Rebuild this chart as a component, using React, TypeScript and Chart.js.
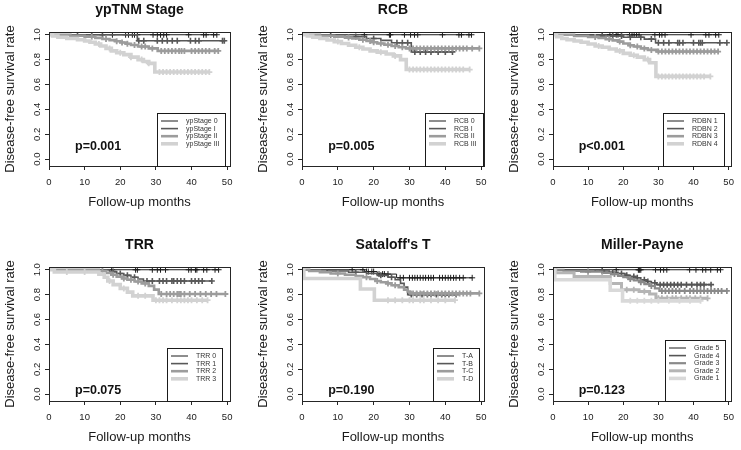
import React, { useEffect, useRef } from 'react';
import { Chart, registerables } from 'chart.js';

Chart.register(...registerables);

const FONT = '"Liberation Sans", Arial, Helvetica, sans-serif';

// ---------- axis ticks ----------
const xTicks = [0, 10, 20, 30, 40, 50];
const xTickLabels = ['0', '10', '20', '30', '40', '50'];
const yTicks = [0, 0.2, 0.4, 0.6, 0.8, 1.0];
const yTickLabels = ['0.0', '0.2', '0.4', '0.6', '0.8', '1.0'];

// ---------- panel texts ----------
const panelTitles = ['ypTNM Stage', 'RCB', 'RDBN', 'TRR', "Sataloff's T", 'Miller-Payne'];
const pValues = ['p=0.001', 'p=0.005', 'p<0.001', 'p=0.075', 'p=0.190', 'p=0.123'];

// ---------- Panel 1: ypTNM Stage ----------
const ypLabels = ['ypStage 0', 'ypStage I', 'ypStage II', 'ypStage III'];
const yp0Times = [0];
const yp0Surv = [1];
const yp0Cens = [17.8, 21.5, 22.3, 23.4, 24, 24.8, 29.2, 30.4, 31.3, 32.2, 33, 39.2, 43.4, 44.1, 46.2, 47.1];
const yp1Times = [0, 24.8];
const yp1Surv = [1, 0.952];
const yp1Cens = [8, 12, 15, 25.2, 26.6, 30.4, 31.8, 33.2, 34.6, 36, 39.7, 41.1, 42.1, 48.7, 49.2];
const yp2Times = [0, 6, 10, 13, 15, 17, 18.5, 20, 21.5, 23, 25, 28, 30.5];
const yp2Surv = [1, 0.992, 0.984, 0.975, 0.966, 0.957, 0.948, 0.938, 0.928, 0.918, 0.905, 0.89, 0.87];
const yp2Cens = [12, 16, 19, 20.5, 22, 24, 26, 27, 29, 31.5, 32.5, 33.5, 34.5, 35.5, 36.5, 37.2, 38, 40, 41, 42, 43, 44, 45, 46.5, 47.5];
const yp3Times = [0, 1, 2.5, 5, 8, 10, 11.5, 13, 14.5, 16, 17.5, 19, 21, 23, 25, 26.5, 28, 29.7];
const yp3Surv = [1, 0.99, 0.98, 0.97, 0.96, 0.95, 0.94, 0.925, 0.91, 0.89, 0.87, 0.855, 0.84, 0.82, 0.8, 0.785, 0.77, 0.7];
const yp3Cens = [14, 17, 20, 23, 26, 28, 31, 32, 33, 34, 35, 36, 37, 38, 39, 40, 41, 42, 43, 44, 45];

// ---------- Panel 2: RCB ----------
const rcbLabels = ['RCB 0', 'RCB I', 'RCB II', 'RCB III'];
const rcb0Times = [0];
const rcb0Surv = [1];
const rcb0Cens = [17.4, 24.4, 24.7, 28.6, 30.3, 31.4, 32.3, 39.2, 43.8, 44.5, 46.6, 47.3];
const rcb1Times = [0, 12, 18, 22, 25, 30.5];
const rcb1Surv = [1, 0.985, 0.97, 0.955, 0.935, 0.862];
const rcb1Cens = [8, 15, 20, 26.5, 28, 29.5, 31.5, 33, 34.5, 36, 38, 40, 42];
const rcb2Times = [0, 5, 9, 12, 14, 16, 18, 19.5, 21, 23, 25, 27, 29];
const rcb2Surv = [1, 0.992, 0.985, 0.977, 0.97, 0.96, 0.95, 0.94, 0.93, 0.92, 0.91, 0.9, 0.89];
const rcb2Cens = [13, 17, 19, 20, 22, 24, 26, 28, 30, 31, 32, 33, 34, 35, 36, 37, 38, 39, 40, 41, 42, 43, 44, 45, 46, 47.5, 49.5];
const rcb3Times = [0, 1.5, 3, 5, 7, 9, 11, 13, 15, 17, 19, 21, 23.5, 25.5, 27.5, 29.1];
const rcb3Surv = [1, 0.99, 0.98, 0.97, 0.958, 0.945, 0.93, 0.915, 0.9, 0.885, 0.87, 0.86, 0.845, 0.83, 0.8, 0.72];
const rcb3Cens = [10, 16, 22, 26, 30, 31, 32, 33, 34, 35, 36, 37, 38, 39, 40, 41, 42, 43, 44, 45, 46.8];

// ---------- Panel 3: RDBN ----------
const rdbnLabels = ['RDBN 1', 'RDBN 2', 'RDBN 3', 'RDBN 4'];
const rdbn1Times = [0];
const rdbn1Surv = [1];
const rdbn1Cens = [16.2, 18, 18.5, 21.8, 22.5, 23.1, 23.8, 24.5, 29, 30.3, 31, 31.9, 39.3, 43.5, 44.4, 46.3, 47.2];
const rdbn2Times = [0, 10, 20, 26, 29.2];
const rdbn2Surv = [1, 0.99, 0.98, 0.965, 0.935];
const rdbn2Cens = [14, 17, 19.5, 22, 25, 28, 30, 31.5, 33, 35.5, 36, 37, 40, 41.5, 42, 42.5, 47.5, 49.5];
const rdbn3Times = [0, 6, 10, 13, 15, 17, 18.5, 20, 21.5, 23, 25, 27, 29.5];
const rdbn3Surv = [1, 0.99, 0.982, 0.975, 0.965, 0.955, 0.945, 0.93, 0.915, 0.905, 0.89, 0.878, 0.865];
const rdbn3Cens = [12, 16, 19, 22, 24, 26, 28, 30, 31, 32, 33, 34, 35, 36, 37, 38, 39, 40, 41, 42, 43, 44, 45, 46, 47];
const rdbn4Times = [0, 1, 2.5, 4, 6, 8, 10, 12, 14, 16, 18, 20, 22, 24, 26, 27.5, 29.3];
const rdbn4Surv = [1, 0.985, 0.97, 0.96, 0.95, 0.94, 0.925, 0.91, 0.9, 0.885, 0.87, 0.85, 0.835, 0.82, 0.8, 0.775, 0.665];
const rdbn4Cens = [13, 19, 23, 27, 30, 31, 32, 33, 34, 35, 36, 37, 38, 39, 40, 41, 42, 43, 44.8];

// ---------- Panel 4: TRR ----------
const trrLabels = ['TRR 0', 'TRR 1', 'TRR 2', 'TRR 3'];
const trr0Times = [0];
const trr0Surv = [1];
const trr0Cens = [17.6, 24.3, 24.8, 29, 30.4, 31.3, 32.7, 39.2, 39.9, 41.1, 41.5, 43.4, 44.3, 46.6, 47.6];
const trr1Times = [0, 17, 19, 21, 23, 25, 26.5];
const trr1Surv = [1, 0.985, 0.97, 0.955, 0.94, 0.925, 0.91];
const trr1Cens = [18, 20, 22, 24, 27.5, 29, 31, 32, 33, 34.5, 35, 36, 37, 38, 40, 41, 42, 43, 45.7];
const trr2Times = [0, 14, 16, 17.5, 19, 20.5, 22, 24, 26, 28, 29.5, 30.8];
const trr2Surv = [1, 0.99, 0.975, 0.96, 0.945, 0.93, 0.92, 0.905, 0.89, 0.87, 0.84, 0.805];
const trr2Cens = [15, 18, 21, 23, 25, 27, 31.5, 33, 34, 35, 36, 36.5, 37, 38, 39.5, 41, 42.5, 44, 45.5, 47, 49.5];
const trr3Times = [0, 1.5, 14, 15.5, 16.5, 18, 20, 22, 23.5, 29.2];
const trr3Surv = [1, 0.982, 0.965, 0.94, 0.91, 0.88, 0.85, 0.82, 0.79, 0.755];
const trr3Cens = [5, 10, 17, 21, 25, 27, 30, 31, 32, 33, 34.5, 36, 37, 38, 39, 40, 41.5, 43, 44.5];

// ---------- Panel 5: Sataloff's T ----------
const satLabels = ['T-A', 'T-B', 'T-C', 'T-D'];
const satATimes = [0, 17.5, 21, 26.4];
const satASurv = [1, 0.985, 0.965, 0.935];
const satACens = [14, 17, 18, 18.5, 19.5, 20, 21.5, 22.5, 23, 24, 27.4, 28.3, 30, 30.8, 31.5, 32.2, 33, 33.8, 34.5, 35.3, 36, 36.7, 38.4, 39.2, 40, 40.8, 41.5, 42.3, 43, 44, 45, 47.5];
const satBTimes = [0, 7, 13, 18, 21, 24, 26, 27.5, 28.5, 29.5];
const satBSurv = [1, 0.99, 0.98, 0.97, 0.955, 0.94, 0.92, 0.89, 0.86, 0.8];
const satBCens = [15, 22, 25, 30.5, 32, 33.5, 35, 36, 37.5, 39, 40, 41, 43];
const satCTimes = [0, 2, 5, 8, 12, 15, 17, 19, 20.5, 22, 23.5, 25, 27, 28.5, 29.5, 30.2];
const satCSurv = [1, 0.99, 0.98, 0.97, 0.96, 0.95, 0.94, 0.925, 0.91, 0.9, 0.89, 0.875, 0.86, 0.84, 0.825, 0.81];
const satCCens = [10, 18, 21, 24, 26, 31, 32, 33, 34, 35, 36, 37, 38, 39, 40, 41, 42, 43, 44, 45, 46, 47, 49.5];
const satDTimes = [0, 0.5, 16.3, 20.2];
const satDSurv = [1, 0.93, 0.845, 0.755];
const satDCens = [24, 26, 28, 30, 31, 33, 34, 36, 38, 40, 42.7];

// ---------- Panel 6: Miller-Payne ----------
const mpLabels = ['Grade 5', 'Grade 4', 'Grade 3', 'Grade 2', 'Grade 1'];
const mp5Times = [0];
const mp5Surv = [1];
const mp5Cens = [18, 24.3, 24.5, 24.7, 25, 29.2, 30.6, 31.5, 32.4, 38.9, 40.7, 42.6, 43.5, 44.9, 46.8, 47.7];
const mp4Times = [0, 12, 16, 18.5, 20.5, 22, 23.5, 25, 26.5, 28, 29.5];
const mp4Surv = [1, 0.99, 0.98, 0.97, 0.955, 0.945, 0.935, 0.92, 0.905, 0.895, 0.88];
const mp4Cens = [14, 17, 19.5, 21, 23, 24, 26, 27, 29, 30.5, 31.5, 32.5, 33.5, 34.5, 35.5, 36.5, 38, 39.5, 41, 42, 43, 45];
const mp3Times = [0, 3, 8, 14, 16.5, 18.5, 20, 21.5, 23, 24.5, 26, 27.5, 29, 30.3];
const mp3Surv = [1, 0.99, 0.985, 0.975, 0.965, 0.95, 0.94, 0.925, 0.915, 0.9, 0.885, 0.87, 0.85, 0.83];
const mp3Cens = [10, 17.5, 22, 25, 28, 31, 32, 33, 34, 35, 36, 37.5, 39, 40, 41, 42, 43, 44, 45, 46, 47, 48, 49.5];
const mp2Times = [0, 0.8, 6, 16.3, 19.5, 24.5, 27.5, 29.3];
const mp2Surv = [1, 0.975, 0.945, 0.89, 0.84, 0.825, 0.805, 0.77];
const mp2Cens = [10, 14, 21, 23, 26, 30, 31, 32.5, 34, 35, 36.5, 38, 39, 40.5, 42, 44];
const mp1Times = [0, 0.5, 16.3, 19.8];
const mp1Surv = [1, 0.92, 0.835, 0.75];
const mp1Cens = [22, 24, 26, 28, 30, 33, 36, 39, 42];

// ---------- styles ----------
const GRAYS4 = ['#1c1c1c', '#585858', '#9c9c9c', '#d2d2d2'];
const WIDTHS4 = [1, 1.6, 2.6, 3.6];
const GRAYS5 = ['#1c1c1c', '#555555', '#8a8a8a', '#b5b5b5', '#d9d9d9'];
const WIDTHS5 = [1, 1.6, 2.2, 3, 3.6];

const X_MAX = 50.8;
const Y_MIN = -0.055;
const Y_MAX = 1.022;
const CANVAS_W = 247;
const CANVAS_H = 215;
const BOX_TOP = 32;
const BOX_BOTTOM = 166;
const YW = 46;
const XH = 44;
const ROW_TOPS = [0, 235];
const COL_LEFTS = [0, 247, 494];
const COL_BOX = [
  [49, 230],
  [55, 237],
  [59, 242],
];
const LEG_INSET = [5, 1, 7, 8, 5, 6];
const P_Y = [0.1, 0.1, 0.1, 0.03, 0.03, 0.03];
const P_X = 7.3;

type Group = { label: string; times: number[]; surv: number[]; cens: number[] };

function mk(labels: string[], t: number[][], s: number[][], c: number[][]): Group[] {
  return labels.map((label, i) => ({ label, times: t[i], surv: s[i], cens: c[i] }));
}

const PANEL_GROUPS: Group[][] = [
  mk(ypLabels, [yp0Times, yp1Times, yp2Times, yp3Times], [yp0Surv, yp1Surv, yp2Surv, yp3Surv], [yp0Cens, yp1Cens, yp2Cens, yp3Cens]),
  mk(rcbLabels, [rcb0Times, rcb1Times, rcb2Times, rcb3Times], [rcb0Surv, rcb1Surv, rcb2Surv, rcb3Surv], [rcb0Cens, rcb1Cens, rcb2Cens, rcb3Cens]),
  mk(rdbnLabels, [rdbn1Times, rdbn2Times, rdbn3Times, rdbn4Times], [rdbn1Surv, rdbn2Surv, rdbn3Surv, rdbn4Surv], [rdbn1Cens, rdbn2Cens, rdbn3Cens, rdbn4Cens]),
  mk(trrLabels, [trr0Times, trr1Times, trr2Times, trr3Times], [trr0Surv, trr1Surv, trr2Surv, trr3Surv], [trr0Cens, trr1Cens, trr2Cens, trr3Cens]),
  mk(satLabels, [satATimes, satBTimes, satCTimes, satDTimes], [satASurv, satBSurv, satCSurv, satDSurv], [satACens, satBCens, satCCens, satDCens]),
  mk(mpLabels, [mp5Times, mp4Times, mp3Times, mp2Times, mp1Times], [mp5Surv, mp4Surv, mp3Surv, mp2Surv, mp1Surv], [mp5Cens, mp4Cens, mp3Cens, mp2Cens, mp1Cens]),
];

function survAt(times: number[], surv: number[], x: number) {
  let v = surv[0];
  for (let i = 0; i < times.length; i++) if (times[i] <= x) v = surv[i];
  return v;
}

function buildDatasets(groups: Group[]) {
  const n = groups.length;
  const grays = n === 5 ? GRAYS5 : GRAYS4;
  const widths = n === 5 ? WIDTHS5 : WIDTHS4;
  const ds: any[] = [];
  groups.forEach((g, i) => {
    const end = Math.max(...g.cens);
    const pts = g.times.map((t, k) => ({ x: t, y: g.surv[k] }));
    pts.push({ x: end, y: g.surv[g.surv.length - 1] });
    ds.push({
      type: 'line',
      label: g.label,
      data: pts,
      stepped: 'before',
      borderColor: grays[i],
      borderWidth: widths[i],
      pointRadius: 0,
      fill: false,
      order: -2 * i,
    });
    ds.push({
      type: 'line',
      label: g.label + ' censored',
      data: g.cens.map((c) => ({ x: c, y: survAt(g.times, g.surv, c) })),
      showLine: false,
      pointStyle: 'cross',
      pointRadius: 3,
      pointBorderColor: grays[i],
      pointBackgroundColor: grays[i],
      pointBorderWidth: Math.min(widths[i], 1.8),
      order: -2 * i - 1,
    });
  });
  return ds;
}

function Panel({ idx }: { idx: number }) {
  const ref = useRef<HTMLCanvasElement>(null);
  const row = Math.floor(idx / 3);
  const col = idx % 3;
  const [boxL, boxR] = COL_BOX[col];
  useEffect(() => {
    const groups = PANEL_GROUPS[idx];
    const n = groups.length;
    const grays = n === 5 ? GRAYS5 : GRAYS4;
    const widths = n === 5 ? WIDTHS5 : WIDTHS4;
    const decor = {
      id: 'decor' + idx,
      afterDraw(chart: any) {
        const { ctx, chartArea: a, scales } = chart;
        ctx.save();
        // frame
        ctx.strokeStyle = '#262626';
        ctx.lineWidth = 1;
        ctx.strokeRect(Math.round(a.left) + 0.5, Math.round(a.top) + 0.5, Math.round(a.right - a.left), Math.round(a.bottom - a.top));
        // title
        ctx.fillStyle = '#111';
        ctx.font = `bold 14px ${FONT}`;
        ctx.textAlign = 'center';
        ctx.textBaseline = 'middle';
        ctx.fillText(panelTitles[idx], (a.left + a.right) / 2, 10);
        // p value
        ctx.font = `bold 12.5px ${FONT}`;
        ctx.textAlign = 'left';
        ctx.fillText(pValues[idx], scales.x.getPixelForValue(P_X), scales.y.getPixelForValue(P_Y[idx]));
        // legend
        ctx.font = `7px ${FONT}`;
        let tw = 0;
        groups.forEach((g) => (tw = Math.max(tw, ctx.measureText(g.label).width)));
        const w = 29 + tw + 6;
        const sp = 7.6;
        const h = n * sp + 23;
        const right = Math.round(a.right - LEG_INSET[idx]);
        const bottom = Math.round(a.bottom);
        const left = Math.round(right - w);
        const top = Math.round(bottom - h);
        ctx.fillStyle = '#fff';
        ctx.fillRect(left, top, right - left, bottom - top);
        ctx.strokeStyle = '#1a1a1a';
        ctx.lineWidth = 1;
        ctx.strokeRect(left + 0.5, top + 0.5, right - left, bottom - top);
        groups.forEach((g, i) => {
          const y = top + 8 + i * sp;
          ctx.strokeStyle = grays[i];
          ctx.lineWidth = widths[i];
          ctx.beginPath();
          ctx.moveTo(left + 4, y);
          ctx.lineTo(left + 21, y);
          ctx.stroke();
          ctx.fillStyle = '#333';
          ctx.textBaseline = 'middle';
          ctx.fillText(g.label, left + 29, y);
        });
        ctx.restore();
      },
    };
    const chart = new Chart(ref.current as HTMLCanvasElement, {
      type: 'line',
      data: { datasets: buildDatasets(groups) },
      options: {
        responsive: false,
        animation: false,
        events: [],
        layout: {
          padding: {
            left: boxL - YW,
            right: CANVAS_W - boxR,
            top: BOX_TOP,
            bottom: CANVAS_H - BOX_BOTTOM - XH,
          },
        },
        plugins: {
          legend: { display: false },
          tooltip: { enabled: false },
          title: { display: false },
        },
        scales: {
          x: {
            type: 'linear',
            min: 0,
            max: X_MAX,
            afterFit: (s: any) => {
              s.height = XH;
            },
            afterBuildTicks: (s: any) => {
              s.ticks = xTicks.map((v) => ({ value: v }));
            },
            ticks: {
              autoSkip: false,
              maxRotation: 0,
              padding: 7,
              color: '#1a1a1a',
              font: { family: FONT, size: 9.5 },
              callback: (_v: any, i: number) => xTickLabels[i],
            },
            grid: { drawOnChartArea: false, drawTicks: true, tickLength: 4, color: '#262626' },
            border: { display: true, color: '#262626' },
            title: {
              display: true,
              text: 'Follow-up months',
              color: '#1a1a1a',
              font: { family: FONT, size: 13 },
              padding: 0,
            },
          },
          y: {
            type: 'linear',
            min: Y_MIN,
            max: Y_MAX,
            afterFit: (s: any) => {
              s.width = YW;
            },
            afterBuildTicks: (s: any) => {
              s.ticks = yTicks.map((v) => ({ value: v }));
            },
            ticks: {
              autoSkip: false,
              minRotation: 90,
              maxRotation: 90,
              crossAlign: 'center',
              padding: 1.5,
              color: '#1a1a1a',
              font: { family: FONT, size: 9.5 },
              callback: (_v: any, i: number) => yTickLabels[i],
            },
            grid: { drawOnChartArea: false, drawTicks: true, tickLength: 4, color: '#262626' },
            border: { display: true, color: '#262626' },
            title: {
              display: true,
              text: 'Disease-free survival rate',
              color: '#1a1a1a',
              font: { family: FONT, size: 13 },
              padding: 0,
            },
          },
        },
      } as any,
      plugins: [decor],
    });
    return () => chart.destroy();
  }, [idx]);
  return (
    <canvas
      ref={ref}
      width={CANVAS_W}
      height={CANVAS_H}
      style={{ position: 'absolute', left: COL_LEFTS[col], top: ROW_TOPS[row], width: CANVAS_W, height: CANVAS_H }}
    />
  );
}

export default function App() {
  return (
    <div style={{ position: 'fixed', left: 0, top: 0, width: 741, height: 450, background: '#fff', overflow: 'hidden' }}>
      {[0, 1, 2, 3, 4, 5].map((i) => (
        <Panel key={i} idx={i} />
      ))}
    </div>
  );
}
